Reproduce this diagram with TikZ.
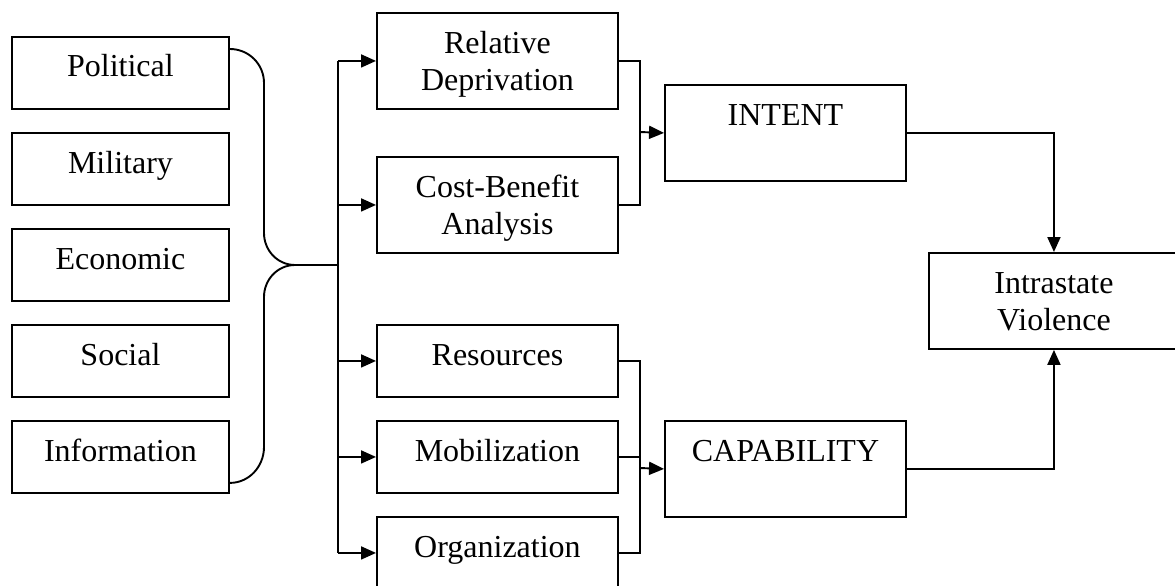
\documentclass[tikz,border=0pt]{standalone}
\usepackage{fontspec}
\setmainfont{Liberation Serif}
\usetikzlibrary{arrows.meta}
\newcommand{\twol}[2]{\begin{tabular}[t]{@{}c@{}}#1\\#2\end{tabular}}
\begin{document}
\begin{tikzpicture}[x=1pt,y=-1pt,
  box/.style={draw, line width=1.9pt, inner sep=0pt, anchor=north west},
  lbl/.style={anchor=base, inner sep=0pt, font=\fontsize{32}{37}\selectfont},
  ln/.style={line width=1.9pt},
  thick line/.style={line width=2.5pt},
  arr/.style={ln, -{Triangle[length=15pt,width=13pt]}},
  lbox/.style={box, minimum width=217pt, minimum height=72pt},
  mbox/.style={box, minimum width=241pt, minimum height=96pt},
  sbox/.style={box, minimum width=241pt, minimum height=72pt}]
\useasboundingbox (0,0) rectangle (1175,586);
% left boxes
\node[lbox] (pol) at (11,36) {};
\node[lbox] (mil) at (11,132) {};
\node[lbox] (eco) at (11,228) {};
\node[lbox] (soc) at (11,324) {};
\node[lbox] (inf) at (11,420) {};
\node[lbl] (polt) at ([yshift=-41pt]pol.north) {Political};
\node[lbl] (milt) at ([yshift=-41pt]mil.north) {Military};
\node[lbl] (ecot) at ([yshift=-41pt]eco.north) {Economic};
\node[lbl] (soct) at ([yshift=-41pt]soc.north) {Social};
\node[lbl] (inft) at ([yshift=-41pt]inf.north) {Information};
% middle boxes
\node[mbox] (rd) at (376,12) {};
\node[mbox] (cb) at (376,156) {};
\node[sbox] (res) at (376,324) {};
\node[sbox] (mob) at (376,420) {};
\node[sbox] (org) at (376,516) {};
\node[lbl] (rdt) at ([yshift=-41pt]rd.north) {\twol{Relative}{Deprivation}};
\node[lbl] (cbt) at ([yshift=-41pt]cb.north) {\twol{Cost-Benefit}{Analysis}};
\node[lbl] (rest) at ([yshift=-41pt]res.north) {Resources};
\node[lbl] (mobt) at ([yshift=-41pt]mob.north) {Mobilization};
\node[lbl] (orgt) at ([yshift=-41pt]org.north) {Organization};
% intent / capability
\node[mbox] (int) at (664,84) {};
\node[mbox] (cap) at (664,420) {};
\node[lbl] (intt) at ([yshift=-41pt]int.north) {INTENT};
\node[lbl] (capt) at ([yshift=-41pt]cap.north) {CAPABILITY};
% intrastate violence
\node[box, minimum width=250pt, minimum height=96pt] (iv) at (928,252) {};
\node[lbl] (ivt) at ([yshift=-41pt]iv.north) {\twol{Intrastate}{Violence}};
% brace
\coordinate (bc) at (295,265);
\coordinate (tk) at (338,265);
\draw[ln] ([yshift=-13pt]pol.north east) to[out=0,in=90] (264,83) -- (264,233) to[out=-90,in=180] (bc);
\draw[ln] (bc) to[out=180,in=90] (264,297) -- (264,447) to[out=-90,in=0] ([yshift=11pt]inf.south east);
\draw[thick line] (bc) -- (tk);
\draw[thick line] (tk|-rd.west) -- (tk|-org.west);
\foreach \n in {rd,cb,res,mob,org} \draw[arr] (tk|-\n.west) -- (\n.west);
% joins
\coordinate (j1) at (640,132);
\coordinate (j2) at (640,468);
\draw[ln] (rd.east) -| (j1) |- (cb.east);
\draw[arr] (j1) -- (int.west);
\draw[ln] (res.east) -| (j2) |- (org.east);
\draw[ln] (mob.east) -- (mob.east-|j2);
\draw[arr] (j2) -- (cap.west);
% to intrastate
\draw[arr] (int.east) -| (iv.north);
\draw[arr] (cap.east) -| (iv.south);
\end{tikzpicture}
\end{document}
